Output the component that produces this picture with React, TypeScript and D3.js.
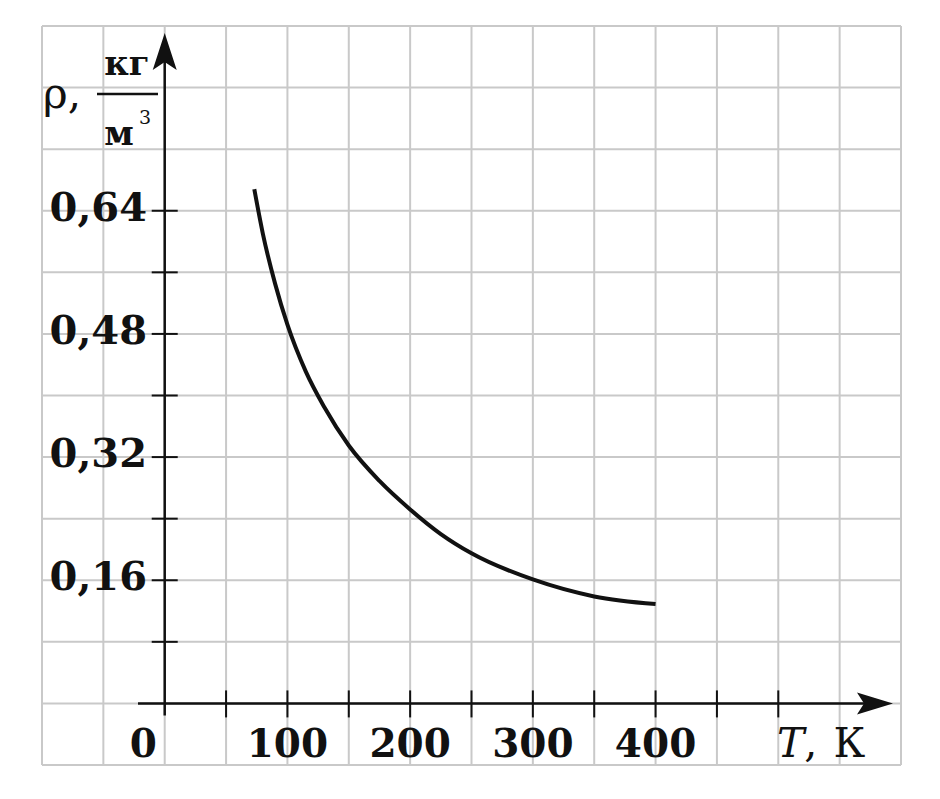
import React, { useEffect, useRef } from 'react';
import * as d3 from 'd3';

// curve: temperature T (K) and density rho (kg/m3)
const tempValues = [73, 80, 90, 100, 115, 130, 150, 175, 200, 225, 250, 300, 350, 400];
const rhoValues = [0.668, 0.61, 0.545, 0.492, 0.431, 0.385, 0.335, 0.289, 0.252, 0.22, 0.195, 0.161, 0.139, 0.129];

const xTickValues = [50, 100, 150, 200, 250, 300, 350, 400, 450, 500];
const xTickLabels = ['100', '200', '300', '400'];
const yTickValues = [0.08, 0.16, 0.24, 0.32, 0.4, 0.48, 0.56, 0.64];
const yTickLabels = ['0,16', '0,32', '0,48', '0,64'];

function App() {
  const svgRef = useRef<SVGSVGElement>(null);

  useEffect(() => {
    const width = 940;
    const height = 799;
    const font = '"DejaVu Serif", serif';
    const ink = '#111';

    const svg = d3.select(svgRef.current);
    svg.selectAll('*').remove();
    svg.attr('width', width).attr('height', height).attr('viewBox', `0 0 ${width} ${height}`);

    svg.append('rect').attr('width', width).attr('height', height).attr('fill', '#fff');

    const x = d3.scaleLinear().domain([-100, 600]).range([42, 901]);
    const y = d3.scaleLinear().domain([-0.08, 0.88]).range([765, 26]);

    // grid
    const grid = svg.append('g').attr('stroke', '#c9c9c9').attr('stroke-width', 2);
    grid.selectAll('line.v')
      .data(d3.range(-100, 601, 50))
      .enter().append('line')
      .attr('x1', d => x(d)).attr('x2', d => x(d))
      .attr('y1', y(0.88)).attr('y2', y(-0.08));
    grid.selectAll('line.h')
      .data(d3.range(0, 13).map(i => -0.08 + i * 0.08))
      .enter().append('line')
      .attr('x1', x(-100)).attr('x2', x(600))
      .attr('y1', d => y(d)).attr('y2', d => y(d));

    const x0 = x(0);
    const y0 = y(0);

    // axes
    svg.append('line')
      .attr('x1', 138).attr('x2', 870)
      .attr('y1', y0).attr('y2', y0)
      .attr('stroke', ink).attr('stroke-width', 2.5);
    svg.append('path')
      .attr('d', `M893,${y0} L857,${y0 - 11} L864,${y0} L857,${y0 + 11} Z`)
      .attr('fill', ink);

    svg.append('line')
      .attr('x1', x0).attr('x2', x0)
      .attr('y1', y0 + 12).attr('y2', 55)
      .attr('stroke', ink).attr('stroke-width', 2.5);
    svg.append('path')
      .attr('d', `M${x0},33 L${x0 - 12},70 L${x0},62 L${x0 + 12},70 Z`)
      .attr('fill', ink);

    // ticks
    svg.append('g').selectAll('line')
      .data(xTickValues)
      .enter().append('line')
      .attr('x1', d => x(d)).attr('x2', d => x(d))
      .attr('y1', y0 - 13).attr('y2', y0 + 14)
      .attr('stroke', ink).attr('stroke-width', 2);
    svg.append('g').selectAll('line')
      .data(yTickValues)
      .enter().append('line')
      .attr('x1', x0 - 13).attr('x2', x0 + 13)
      .attr('y1', d => y(d)).attr('y2', d => y(d))
      .attr('stroke', ink).attr('stroke-width', 2);

    // tick labels
    svg.append('g').selectAll('text')
      .data(xTickLabels)
      .enter().append('text')
      .attr('x', d => x(+d))
      .attr('y', 757)
      .attr('text-anchor', 'middle')
      .style('font-family', font).style('font-weight', 'bold').style('font-size', '39px')
      .attr('fill', ink)
      .text(d => d);
    svg.append('g').selectAll('text')
      .data(yTickLabels)
      .enter().append('text')
      .attr('x', 147)
      .attr('y', d => y(+d.replace(',', '.')) + 10)
      .attr('text-anchor', 'end')
      .style('font-family', font).style('font-weight', 'bold').style('font-size', '40px')
      .attr('fill', ink)
      .text(d => d);
    svg.append('text')
      .attr('x', 157).attr('y', 757)
      .attr('text-anchor', 'end')
      .style('font-family', font).style('font-weight', 'bold').style('font-size', '39px')
      .attr('fill', ink)
      .text('0');

    // axis titles
    const tTitle = svg.append('text')
      .attr('x', 777).attr('y', 757)
      .style('font-family', font).style('font-size', '41px')
      .attr('fill', ink);
    tTitle.append('tspan').style('font-style', 'italic').text('T');
    tTitle.append('tspan').text(',');
    tTitle.append('tspan').attr('dx', 16).text('К');

    svg.append('text')
      .attr('x', 43).attr('y', 108)
      .style('font-family', font).style('font-size', '42px')
      .attr('fill', ink)
      .text('ρ,');
    svg.append('text')
      .attr('x', 127).attr('y', 75)
      .attr('text-anchor', 'middle')
      .style('font-family', font).style('font-weight', 'bold').style('font-size', '34px')
      .attr('fill', ink)
      .text('кг');
    svg.append('line')
      .attr('x1', 97).attr('x2', 158).attr('y1', 94).attr('y2', 94)
      .attr('stroke', ink).attr('stroke-width', 2.5);
    svg.append('text')
      .attr('x', 119).attr('y', 145)
      .attr('text-anchor', 'middle')
      .style('font-family', font).style('font-weight', 'bold').style('font-size', '34px')
      .attr('fill', ink)
      .text('м');
    svg.append('text')
      .attr('x', 139).attr('y', 124)
      .style('font-family', font).style('font-size', '19px')
      .attr('fill', ink)
      .text('3');

    // curve
    const points = tempValues.map((t, i) => [t, rhoValues[i]] as [number, number]);
    const line = d3.line<[number, number]>()
      .x(d => x(d[0]))
      .y(d => y(d[1]))
      .curve(d3.curveMonotoneX);
    svg.append('path')
      .datum(points)
      .attr('d', line)
      .attr('fill', 'none')
      .attr('stroke', ink)
      .attr('stroke-width', 4)
      .attr('stroke-linecap', 'butt');
  }, []);

  return (
    <div style={{ position: 'absolute', left: 0, top: 0 }}>
      <svg ref={svgRef} style={{ display: 'block' }} />
    </div>
  );
}

export default App;
